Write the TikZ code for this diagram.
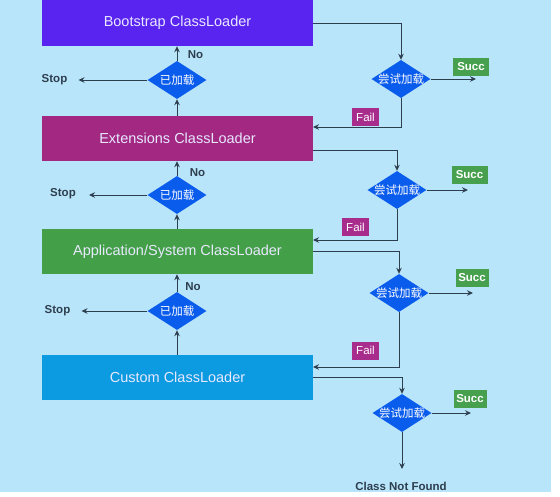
\documentclass[tikz,border=0pt]{standalone}
\usepackage{fontspec}
\setmainfont{Liberation Sans}
\newfontfamily\cjkfont{Noto Sans CJK SC}
\usetikzlibrary{shapes.geometric,arrows.meta}

\definecolor{bgblue}{RGB}{185,229,250}
\definecolor{bootcol}{RGB}{90,36,240}
\definecolor{extcol}{RGB}{162,40,130}
\definecolor{appcol}{RGB}{68,160,72}
\definecolor{custcol}{RGB}{12,154,224}
\definecolor{diacol}{RGB}{10,92,236}
\definecolor{succcol}{RGB}{70,160,78}
\definecolor{failcol}{RGB}{168,44,140}
\definecolor{linecol}{RGB}{45,62,78}
\definecolor{boxtext}{RGB}{232,232,255}

\tikzset{
  loader/.style={rectangle, minimum width=271pt, minimum height=45pt, inner sep=0pt,
    text=boxtext, font=\fontsize{14.5}{16}\selectfont},
  check/.style={diamond, fill=diacol, minimum width=59pt, minimum height=38pt,
    inner sep=0pt, text=white, font=\cjkfont\fontsize{11.5}{12}\selectfont},
  tag/.style={rectangle, inner sep=0pt, minimum height=18pt, text=white},
  note/.style={text=linecol, font=\bfseries\fontsize{11.5}{12}\selectfont},
  flow/.style={draw=linecol, line width=1pt, -{Stealth[length=6pt,width=5.5pt]}}
}

\begin{document}
\begin{tikzpicture}[x=1pt,y=-1pt]
\useasboundingbox (0,0) rectangle (560,496);
\fill [white] (0,0) rectangle (560,496);
\fill [bgblue] (0,0) rectangle (551,492);
% class loaders
\node [loader, fill=bootcol, minimum height=46pt] (boot) at (177.5,23) {Bootstrap ClassLoader};
\node [loader, fill=extcol] (ext) at (177.5,138.5) {Extensions ClassLoader};
\node [loader, fill=appcol] (app) at (177.5,251.5) {Application/System ClassLoader};
\node [loader, fill=custcol] (cust) at (177.5,377.5) {Custom ClassLoader};
% left side: already loaded?
\node [check] (chk1) at (177,80) {\makebox[0pt]{已加载}};
\node [check] (chk2) at (177,195) {\makebox[0pt]{已加载}};
\node [check] (chk3) at (177,311) {\makebox[0pt]{已加载}};
\node [note, inner xsep=11pt] (stop1) at (54.5,80) {Stop};
\node [note, inner xsep=13pt] (stop2) at (63,194) {Stop};
\node [note, inner xsep=11pt] (stop3) at (57.5,311) {Stop};
\node [note] (no1) at (195.5,55) {No};
\node [note] (no2) at (197.5,173) {No};
\node [note] (no3) at (193,287) {No};
\draw [flow] (chk1.west) -- (stop1.east);
\draw [flow] (chk2.west) -- (stop2.east |- chk2.west);
\draw [flow] (chk3.west) -- (stop3.east);
\draw [flow] (chk1.north) -- (chk1 |- boot.south);
\draw [flow] (chk1 |- ext.north) -- (chk1.south);
\draw [flow] (chk2.north) -- (chk2 |- ext.south);
\draw [flow] (chk2 |- app.north) -- (chk2.south);
\draw [flow] (chk3.north) -- (chk3 |- app.south);
\draw [flow] (chk3 |- cust.north) -- (chk3.south);
% right side: try to load
\node [check] (try1) at (401,79) {\makebox[0pt]{尝试加载}};
\node [check] (try2) at (397,190) {\makebox[0pt]{尝试加载}};
\node [check] (try3) at (399,293) {\makebox[0pt]{尝试加载}};
\node [check] (try4) at (402,413) {\makebox[0pt]{尝试加载}};
\node [tag, fill=succcol, minimum width=36pt, font=\bfseries\fontsize{11.5}{12}\selectfont] (succ1) at (471,67) {Succ};
\node [tag, fill=succcol, minimum width=36pt, font=\bfseries\fontsize{11.5}{12}\selectfont] (succ2) at (469.5,174.5) {Succ};
\node [tag, fill=succcol, minimum width=33pt, font=\bfseries\fontsize{11.5}{12}\selectfont] (succ3) at (472,278) {Succ};
\node [tag, fill=succcol, minimum width=33pt, font=\bfseries\fontsize{11.5}{12}\selectfont] (succ4) at (470,398.5) {Succ};
\node [tag, fill=failcol, minimum width=27pt, font=\fontsize{11.5}{12}\selectfont] (fail1) at (365.5,117) {Fail};
\node [tag, fill=failcol, minimum width=27pt, font=\fontsize{11.5}{12}\selectfont] (fail2) at (355.5,227) {Fail};
\node [tag, fill=failcol, minimum width=27pt, font=\fontsize{11.5}{12}\selectfont] (fail3) at (365.5,350.5) {Fail};
\node [note, anchor=north, inner ysep=13pt] (cnf) at (401,469) {Class Not Found};
\coordinate (s1) at (476,79);
\coordinate (s2) at (468,190);
\coordinate (s3) at (473,293);
\coordinate (s4) at (471,413);
\coordinate (f1) at (313,127);
\coordinate (f2) at (313,240);
\coordinate (f3) at (313,367);
\coordinate (e2) at (313,150);
\draw [flow] (boot.east) -| (try1.north);
\draw [flow] (e2) -| (try2.north);
\draw [flow] (app.east) -| (try3.north);
\draw [flow] (cust.east) -| (try4.north);
\draw [flow] (try1.east) -- (s1);
\draw [flow] (try2.east) -- (s2);
\draw [flow] (try3.east) -- (s3);
\draw [flow] (try4.east) -- (s4);
\draw [flow] (try1.south) |- (f1);
\draw [flow] (try2.south) |- (f2);
\draw [flow] (try3.south) |- (f3);
\draw [flow] (try4.south) -- (try4 |- cnf.north);
\end{tikzpicture}
\end{document}
